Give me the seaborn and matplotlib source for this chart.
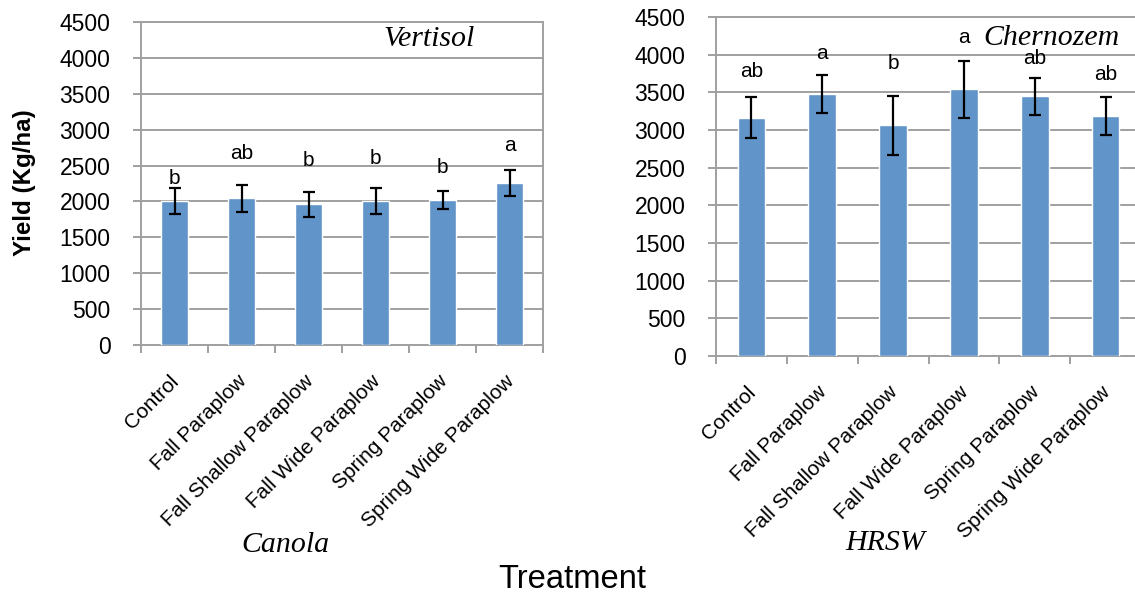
import matplotlib
matplotlib.use("Agg")
import matplotlib.pyplot as plt
import matplotlib.transforms as mtransforms
import seaborn as sns
import pandas as pd
import numpy as np

treatments = ["Control", "Fall Paraplow", "Fall Shallow Paraplow",
              "Fall Wide Paraplow", "Spring Paraplow", "Spring Wide Paraplow"]

canola_yield = [2005, 2047, 1958, 2010, 2014, 2258]
canola_err = [182, 188, 178, 183, 125, 180]
canola_letters = ["b", "ab", "b", "b", "b", "a"]
canola_letter_y = [2243, 2587, 2494, 2517, 2392, 2707]

hrsw_yield = [3163, 3482, 3061, 3540, 3447, 3185]
hrsw_err = [275, 253, 390, 379, 244, 257]
hrsw_letters = ["ab", "a", "b", "a", "ab", "ab"]
hrsw_letter_y = [3700, 3938, 3810, 4160, 3876, 3664]

yticks = [0, 500, 1000, 1500, 2000, 2500, 3000, 3500, 4000, 4500]

sns.set_theme(style="white")
plt.rcParams["font.family"] = ["Liberation Sans", "DejaVu Sans"]
plt.rcParams["text.color"] = "black"
plt.rcParams["xtick.labelcolor"] = "black"
plt.rcParams["ytick.labelcolor"] = "black"

W, H = 1135, 598
fig = plt.figure(figsize=(W / 100, H / 100), dpi=100)

BAR = "#6194C9"
GRID = "#a0a0a0"
SERIF = ["Liberation Serif", "DejaVu Serif"]


def make_axes(px_left, px_top, px_right, px_bottom):
    return fig.add_axes([px_left / W, 1 - px_bottom / H,
                         (px_right - px_left) / W, (px_bottom - px_top) / H])


def draw(ax, yields, errs, letters, letter_y, soil, crop, soil_xy, crop_xy):
    df = pd.DataFrame({"Treatment": treatments, "Yield": yields})
    sns.barplot(data=df, x="Treatment", y="Yield", color=BAR, width=0.39,
                saturation=1, errorbar=None, ax=ax, zorder=3)
    ax.errorbar(np.arange(len(treatments)), yields, yerr=errs, fmt="none",
                ecolor="black", elinewidth=1.6, capsize=4.5, capthick=1.6,
                zorder=4)
    for i, (lab, ly) in enumerate(zip(letters, letter_y)):
        ax.text(i, ly, lab, ha="center", va="baseline", fontsize=15,
                color="black", zorder=5)
    ax.set_ylim(0, 4500)
    ax.set_xlim(-0.5, len(treatments) - 0.5)
    ax.set_yticks(yticks)
    ax.set_yticklabels([str(v) for v in yticks], fontsize=16.5)
    ax.yaxis.grid(True, color=GRID, linewidth=1.4, zorder=0)
    ax.set_axisbelow(True)
    ax.set_xticks(np.arange(len(treatments)))
    ax.set_xticklabels(treatments, rotation=45, ha="right",
                       rotation_mode="anchor", fontsize=15)
    ax.tick_params(axis="x", length=0, pad=19)
    shift = mtransforms.ScaledTranslation(-5 / 100, 0, fig.dpi_scale_trans)
    for lbl in ax.get_xticklabels():
        lbl.set_transform(lbl.get_transform() + shift)
    # category boundary ticks
    ax.set_xticks(np.arange(-0.5, len(treatments)), minor=True)
    ax.tick_params(axis="x", which="minor", length=6, width=1.4,
                   color=GRID, direction="out", bottom=True)
    ax.tick_params(axis="y", length=6, width=1.4, color=GRID,
                   direction="out", left=True, pad=16)
    for s in ax.spines.values():
        s.set_color(GRID)
        s.set_linewidth(1.4)
    ax.set_xlabel("")
    ax.set_ylabel("")
    fig.text(soil_xy[0] / W, 1 - soil_xy[1] / H, soil, ha="center",
             va="center", fontsize=21.5, style="italic", family=SERIF)
    fig.text(crop_xy[0] / W, 1 - crop_xy[1] / H, crop, ha="center",
             va="center", fontsize=21.5, style="italic", family=SERIF)


ax1 = make_axes(141, 22, 543, 345)
draw(ax1, canola_yield, canola_err, canola_letters, canola_letter_y,
     "Vertisol", "Canola", (429, 39), (285, 545))

ax2 = make_axes(716, 17, 1141, 356)
draw(ax2, hrsw_yield, hrsw_err, hrsw_letters, hrsw_letter_y,
     "Chernozem", "HRSW", (1051, 38), (885, 543))

fig.text(25 / W, 1 - 183 / H, "Yield (Kg/ha)", rotation=90, ha="center",
         va="center", fontsize=17.4, fontweight="bold")
fig.text(572 / W, 1 - 580 / H, "Treatment", ha="center", va="center",
         fontsize=23.6)

fig.savefig("out.png", dpi=100)
